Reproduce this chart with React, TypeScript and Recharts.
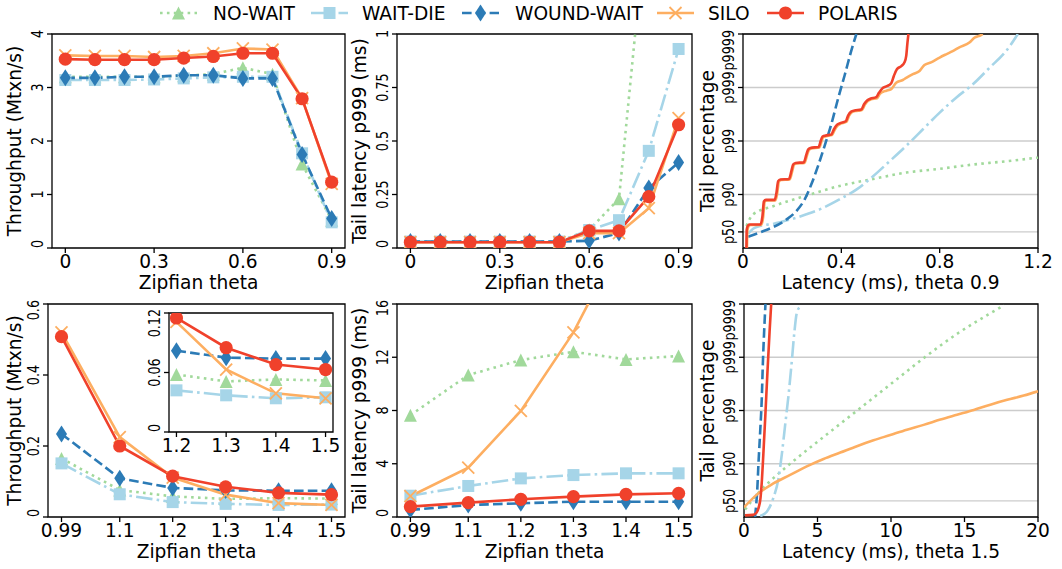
import React from 'react';
import { LineChart, Line, XAxis, YAxis, CartesianGrid, ReferenceArea } from 'recharts';

const FONT = '"DejaVu Sans", sans-serif';
const FS = 18.6;
const YFS = 15;
const LW = 2.6;

const seriesNames = ['NO-WAIT', 'WAIT-DIE', 'WOUND-WAIT', 'SILO', 'POLARIS'];

// top row: zipfian theta 0 .. 0.9
const thetaLow = [0, 0.1, 0.2, 0.3, 0.4, 0.5, 0.6, 0.7, 0.8, 0.9];
const tputLowNoWait = [3.2, 3.2, 3.2, 3.2, 3.22, 3.25, 3.37, 3.25, 1.57, 0.52];
const tputLowWaitDie = [3.14, 3.14, 3.14, 3.15, 3.17, 3.19, 3.2, 3.2, 1.77, 0.48];
const tputLowWoundWait = [3.18, 3.18, 3.2, 3.2, 3.23, 3.23, 3.17, 3.17, 1.75, 0.55];
const tputLowSilo = [3.6, 3.59, 3.59, 3.57, 3.59, 3.64, 3.73, 3.71, 2.8, 1.2];
const tputLowPolaris = [3.53, 3.52, 3.52, 3.52, 3.55, 3.58, 3.64, 3.64, 2.79, 1.23];

const latLowNoWait = [0.03, 0.03, 0.03, 0.03, 0.03, 0.03, 0.085, 0.23, 1.65, 3.0];
const latLowWaitDie = [0.03, 0.03, 0.03, 0.03, 0.03, 0.03, 0.084, 0.13, 0.454, 0.93];
const latLowWoundWait = [0.03, 0.03, 0.03, 0.03, 0.03, 0.03, 0.034, 0.07, 0.28, 0.4];
const latLowSilo = [0.027, 0.027, 0.027, 0.027, 0.027, 0.027, 0.07, 0.069, 0.186, 0.607];
const latLowPolaris = [0.027, 0.027, 0.027, 0.027, 0.027, 0.027, 0.08, 0.08, 0.24, 0.576];

// bottom row: zipfian theta 0.99 .. 1.5
const thetaHigh = [0.99, 1.1, 1.2, 1.3, 1.4, 1.5];
const tputHighNoWait = [0.165, 0.076, 0.058, 0.051, 0.053, 0.052];
const tputHighWaitDie = [0.151, 0.064, 0.042, 0.037, 0.034, 0.035];
const tputHighWoundWait = [0.234, 0.109, 0.082, 0.075, 0.074, 0.074];
const tputHighSilo = [0.52, 0.225, 0.111, 0.063, 0.039, 0.034];
const tputHighPolaris = [0.508, 0.2, 0.115, 0.085, 0.068, 0.063];

const latHighNoWait = [7.65, 10.66, 11.79, 12.41, 11.84, 12.09];
const latHighWaitDie = [1.6, 2.33, 2.9, 3.15, 3.28, 3.28];
const latHighWoundWait = [0.53, 0.9, 1.03, 1.15, 1.15, 1.15];
const latHighSilo = [1.56, 3.71, 7.97, 13.87, 21.5, 28];
const latHighPolaris = [0.78, 1.08, 1.33, 1.53, 1.7, 1.78];

// latency CDF (ms, number of nines), theta 0.9
const cdf09NoWait = [[0.014, 0.41], [0.041, 0.63], [0.122, 0.78], [0.258, 0.98], [0.393, 1.16], [0.529, 1.29], [0.664, 1.41], [0.8, 1.48], [0.935, 1.56], [1.07, 1.62], [1.2, 1.69]];
const cdf09WaitDie = [[0.021, 0.27], [0.041, 0.36], [0.068, 0.41], [0.122, 0.45], [0.19, 0.53], [0.258, 0.63], [0.326, 0.75], [0.393, 0.91], [0.461, 1.09], [0.529, 1.34], [0.596, 1.62], [0.664, 1.91], [0.732, 2.22], [0.8, 2.53], [0.867, 2.81], [0.935, 3.06], [1.003, 3.37], [1.07, 3.68], [1.118, 4.0]];
const cdf09WoundWait = [[0.021, 0.21], [0.068, 0.29], [0.122, 0.39], [0.176, 0.53], [0.217, 0.69], [0.251, 0.91], [0.278, 1.19], [0.305, 1.53], [0.332, 1.91], [0.359, 2.31], [0.386, 2.78], [0.413, 3.22], [0.44, 3.68], [0.461, 4.0]];
const cdf09Silo = [[0.016, 0], [0.018, 0.33], [0.023, 0.41], [0.031, 0.43], [0.074, 0.43], [0.082, 0.58], [0.088, 0.86], [0.096, 0.89], [0.132, 0.89], [0.139, 1.02], [0.146, 1.24], [0.155, 1.27], [0.19, 1.28], [0.2, 1.43], [0.207, 1.55], [0.217, 1.58], [0.25, 1.59], [0.261, 1.74], [0.268, 1.83], [0.277, 1.86], [0.311, 1.88], [0.319, 1.99], [0.326, 2.07], [0.337, 2.09], [0.362, 2.11], [0.373, 2.21], [0.385, 2.29], [0.396, 2.32], [0.421, 2.36], [0.431, 2.47], [0.443, 2.54], [0.457, 2.56], [0.484, 2.58], [0.496, 2.68], [0.509, 2.75], [0.521, 2.78], [0.545, 2.8], [0.557, 2.88], [0.57, 2.92], [0.583, 2.94], [0.603, 2.97], [0.623, 3.09], [0.65, 3.14], [0.664, 3.18], [0.691, 3.25], [0.718, 3.31], [0.738, 3.42], [0.765, 3.47], [0.8, 3.56], [0.826, 3.62], [0.853, 3.68], [0.88, 3.75], [0.921, 3.84], [0.941, 3.93], [0.968, 3.98], [0.975, 4.0]];
const cdf09Polaris = [[0.014, 0], [0.015, 0.34], [0.02, 0.42], [0.028, 0.44], [0.071, 0.44], [0.079, 0.59], [0.085, 0.87], [0.093, 0.9], [0.129, 0.9], [0.136, 1.03], [0.143, 1.25], [0.152, 1.28], [0.187, 1.29], [0.197, 1.44], [0.204, 1.56], [0.214, 1.59], [0.247, 1.6], [0.258, 1.75], [0.265, 1.84], [0.274, 1.87], [0.308, 1.89], [0.316, 2.0], [0.323, 2.08], [0.334, 2.1], [0.359, 2.12], [0.37, 2.22], [0.382, 2.3], [0.393, 2.33], [0.418, 2.37], [0.428, 2.48], [0.44, 2.55], [0.454, 2.57], [0.481, 2.59], [0.493, 2.69], [0.506, 2.76], [0.518, 2.79], [0.542, 2.82], [0.553, 2.9], [0.566, 2.98], [0.583, 3.02], [0.603, 3.08], [0.614, 3.22], [0.626, 3.34], [0.644, 3.4], [0.657, 3.47], [0.664, 3.59], [0.669, 3.84], [0.673, 4.0]];

// latency CDF, theta 1.5
const cdf15NoWait = [[0.07, 0.14], [0.87, 0.42], [2.0, 0.73], [3.14, 1.0], [5.4, 1.5], [7.7, 2.0], [10.0, 2.5], [12.3, 3.0], [14.6, 3.46], [16.6, 3.8], [17.7, 3.98]];
const cdf15WaitDie = [[1.1, 0.02], [1.55, 0.1], [2.0, 0.36], [2.35, 0.73], [2.57, 1.17], [2.8, 1.73], [3.03, 2.29], [3.25, 2.92], [3.43, 3.48], [3.59, 3.83], [3.82, 3.95]];
const cdf15WoundWait = [[0.75, 0.0], [0.82, 0.2], [0.9, 0.5], [0.98, 0.98], [1.1, 1.6], [1.21, 2.23], [1.28, 2.86], [1.37, 3.48], [1.46, 4.0]];
const cdf15Silo = [[0.0, 0.18], [0.87, 0.42], [2.0, 0.63], [3.14, 0.79], [4.27, 0.95], [5.41, 1.09], [6.55, 1.21], [7.68, 1.33], [8.81, 1.44], [9.95, 1.54], [11.08, 1.64], [12.22, 1.73], [13.36, 1.83], [14.49, 1.92], [15.63, 2.01], [16.76, 2.11], [17.9, 2.2], [19.03, 2.28], [20.0, 2.36]];
const cdf15Polaris = [[0.07, 0.03], [0.6, 0.04], [0.85, 0.08], [1.0, 0.18], [1.12, 0.35], [1.22, 0.7], [1.32, 1.2], [1.45, 1.9], [1.6, 2.75], [1.74, 3.48], [1.85, 4.0]];

const pTicks = [0.301, 1, 2, 3, 4];
const pLabels = ['p50', 'p90', 'p99', 'p999', 'p9999'];

const styles = [
  { color: '#a1d99b', dash: '2.6 4.3', marker: 'triangle' },
  { color: '#a6d5e8', dash: '16.5 4.2 2.6 4.2', marker: 'square' },
  { color: '#2c7bb6', dash: '9.6 4.2', marker: 'diamond' },
  { color: '#fdae61', dash: undefined, marker: 'x' },
  { color: '#f0412b', dash: undefined, marker: 'circle' },
];

const rows = (xs: number[], series: number[][]) =>
  xs.map((x, i) => {
    const r: any = { x };
    series.forEach((s, k) => (r['s' + k] = s[i]));
    return r;
  });
const pts = (a: number[][]) => a.map(([x, y]) => ({ x, y }));

const Mark = ({ cx, cy, kind, color }: any) => {
  if (cx == null || cy == null || isNaN(cx) || isNaN(cy)) return null;
  if (kind === 'circle') return <circle cx={cx} cy={cy} r={6.6} fill={color} />;
  if (kind === 'square') return <rect x={cx - 6} y={cy - 6} width={12} height={12} fill={color} />;
  if (kind === 'triangle')
    return <polygon points={`${cx},${cy - 6.5} ${cx + 6.5},${cy + 6.5} ${cx - 6.5},${cy + 6.5}`} fill={color} />;
  if (kind === 'diamond')
    return <polygon points={`${cx},${cy - 8.5} ${cx + 5.5},${cy} ${cx},${cy + 8.5} ${cx - 5.5},${cy}`} fill={color} />;
  return (
    <g stroke={color} strokeWidth={1.8}>
      <line x1={cx - 6} y1={cy - 6} x2={cx + 6} y2={cy + 6} />
      <line x1={cx - 6} y1={cy + 6} x2={cx + 6} y2={cy - 6} />
    </g>
  );
};

// vertical tick label; the end labels are kept (mostly) inside the axis span
const RotTick = ({ x, y, label, anchor }: any) => {
  const ty = anchor === 'end' ? y - 4 : y;
  return (
    <text transform={`translate(${x},${ty}) rotate(-90) scale(0.85,1)`} textAnchor={anchor} fontSize={YFS} fontFamily={FONT} fill="#000">
      {label}
    </text>
  );
};

const num = (v: number) => String(v);

function panel(o: any) {
  const yf = o.yLabels ? (v: number) => o.yLabels[o.yt.indexOf(v)] : num;
  const anchorOf = (v: number) => (v === o.yd[1] ? 'end' : v === o.yd[0] ? 'start' : 'middle');
  return (
    <div style={{ position: 'absolute', left: o.left, top: o.top }}>
      <LineChart width={o.w} height={o.h} data={o.data} margin={{ top: o.mt, right: o.mr, bottom: 0, left: 0 }}>
        {o.grid && <CartesianGrid vertical={false} stroke="#cccccc" strokeWidth={1.3} />}
        <XAxis dataKey="x" type="number" domain={o.xd} ticks={o.xt} allowDataOverflow interval={0} height={o.xh}
          tickFormatter={num} tick={{ fontSize: FS, fontFamily: FONT, fill: '#000' }} tickSize={5} tickMargin={2}
          axisLine={false} tickLine={{ stroke: '#000', strokeWidth: 1.3 }} />
        <YAxis type="number" domain={o.yd} ticks={o.yt} allowDataOverflow interval={0} width={o.yw}
          tickSize={5} tickMargin={4} axisLine={false} tickLine={{ stroke: '#000', strokeWidth: 1.3 }}
          tick={(p: any) => <RotTick key={p.index} x={p.x} y={p.y} label={yf(p.payload.value)} anchor={anchorOf(p.payload.value)} />} />
        {styles.map((st, k) => (
          <Line key={k} data={o.cdf ? pts(o.cdf[k]) : undefined} dataKey={o.cdf ? 'y' : 's' + k}
            type={o.cdf ? 'monotone' : 'linear'} stroke={st.color} strokeWidth={LW} strokeDasharray={st.dash}
            isAnimationActive={false} activeDot={false}
            dot={o.cdf ? false : (p: any) => <Mark key={`m${k}-${p.index}`} cx={p.cx} cy={p.cy} kind={st.marker} color={st.color} />} />
        ))}
        <ReferenceArea x1={o.xd[0]} x2={o.xd[1]} y1={o.yd[0]} y2={o.yd[1]} fill="none" stroke="#000" strokeWidth={1.3} ifOverflow="visible" />
      </LineChart>
    </div>
  );
}

const legendPos = [
  { x0: 160, tx: 213 },
  { x0: 311, tx: 362 },
  { x0: 462, tx: 515 },
  { x0: 657, tx: 708 },
  { x0: 767, tx: 818 },
];

const textProps = { fontSize: FS, fontFamily: FONT, fill: '#000' };

export default function App() {
  const lowX = [-0.045, 0.945];
  const lowT = [0, 0.3, 0.6, 0.9];
  const highX = [0.9645, 1.5255];
  const highTput = rows(thetaHigh, [tputHighNoWait, tputHighWaitDie, tputHighWoundWait, tputHighSilo, tputHighPolaris]);
  return (
    <div style={{ position: 'absolute', left: 0, top: 0, width: 1062, height: 569, background: '#fff' }}>
      {panel({ left: 0, top: 0, w: 355, h: 300, mt: 34, mr: 10, yw: 52, xh: 52, xd: lowX, xt: lowT, yd: [0, 4], yt: [0, 1, 2, 3, 4],
        data: rows(thetaLow, [tputLowNoWait, tputLowWaitDie, tputLowWoundWait, tputLowSilo, tputLowPolaris]) })}
      {panel({ left: 355, top: 0, w: 345, h: 300, mt: 34, mr: 8, yw: 42, xh: 52, xd: lowX, xt: lowT, yd: [0, 1], yt: [0, 0.25, 0.5, 0.75, 1],
        data: rows(thetaLow, [latLowNoWait, latLowWaitDie, latLowWoundWait, latLowSilo, latLowPolaris]) })}
      {panel({ left: 700, top: 0, w: 362, h: 300, mt: 34, mr: 24, yw: 43, xh: 52, xd: [0, 1.2], xt: [0, 0.4, 0.8, 1.2], yd: [0, 4], yt: pTicks, yLabels: pLabels, grid: true,
        cdf: [cdf09NoWait, cdf09WaitDie, cdf09WoundWait, cdf09Silo, cdf09Polaris] })}
      {panel({ left: 0, top: 280, w: 355, h: 289, mt: 24, mr: 10, yw: 48, xh: 52, xd: highX, xt: thetaHigh, yd: [0, 0.6], yt: [0, 0.2, 0.4, 0.6],
        data: highTput })}
      {panel({ left: 125, top: 300, w: 215, h: 160, mt: 13, mr: 7, yw: 44, xh: 28, xd: [1.185, 1.515], xt: [1.2, 1.3, 1.4, 1.5], yd: [0, 0.12], yt: [0, 0.06, 0.12],
        data: highTput.slice(2) })}
      {panel({ left: 355, top: 280, w: 345, h: 289, mt: 24, mr: 8, yw: 42, xh: 52, xd: highX, xt: thetaHigh, yd: [0, 16], yt: [0, 4, 8, 12, 16],
        data: rows(thetaHigh, [latHighNoWait, latHighWaitDie, latHighWoundWait, latHighSilo, latHighPolaris]) })}
      {panel({ left: 700, top: 280, w: 362, h: 289, mt: 24, mr: 24, yw: 44, xh: 52, xd: [0, 20], xt: [0, 5, 10, 15, 20], yd: [0, 4], yt: pTicks, yLabels: pLabels, grid: true,
        cdf: [cdf15NoWait, cdf15WaitDie, cdf15WoundWait, cdf15Silo, cdf15Polaris] })}

      <svg width={1062} height={569} style={{ position: 'absolute', left: 0, top: 0, pointerEvents: 'none' }}>
        {styles.map((st, k) => (
          <g key={k}>
            <line x1={legendPos[k].x0} x2={legendPos[k].x0 + 37} y1={13} y2={13} stroke={st.color} strokeWidth={LW} strokeDasharray={st.dash} />
            <Mark cx={legendPos[k].x0 + 18.5} cy={13} kind={st.marker} color={st.color} />
            <text x={legendPos[k].tx} y={19.5} {...textProps}>{seriesNames[k]}</text>
          </g>
        ))}
        {[
          ['Zipfian theta', 198.5, 288.5],
          ['Zipfian theta', 544.5, 288.5],
          ['Latency (ms), theta 0.9', 890.5, 288.5],
          ['Zipfian theta', 196.5, 557.5],
          ['Zipfian theta', 544.5, 557.5],
          ['Latency (ms), theta 1.5', 891, 557.5],
        ].map(([t, x, y], i) => (
          <text key={'x' + i} x={x as number} y={y as number} textAnchor="middle" {...textProps}>{t}</text>
        ))}
        {[
          ['Throughput (Mtxn/s)', 20.5, 141],
          ['Tail latency p999 (ms)', 365.5, 141],
          ['Tail percentage', 714, 141],
          ['Throughput (Mtxn/s)', 20.5, 410.5],
          ['Tail latency p999 (ms)', 365.5, 410.5],
          ['Tail percentage', 714, 410.5],
        ].map(([t, x, y], i) => (
          <text key={'y' + i} x={x as number} y={y as number} textAnchor="middle" transform={`rotate(-90 ${x} ${y})`} {...textProps}>{t}</text>
        ))}
      </svg>
    </div>
  );
}
